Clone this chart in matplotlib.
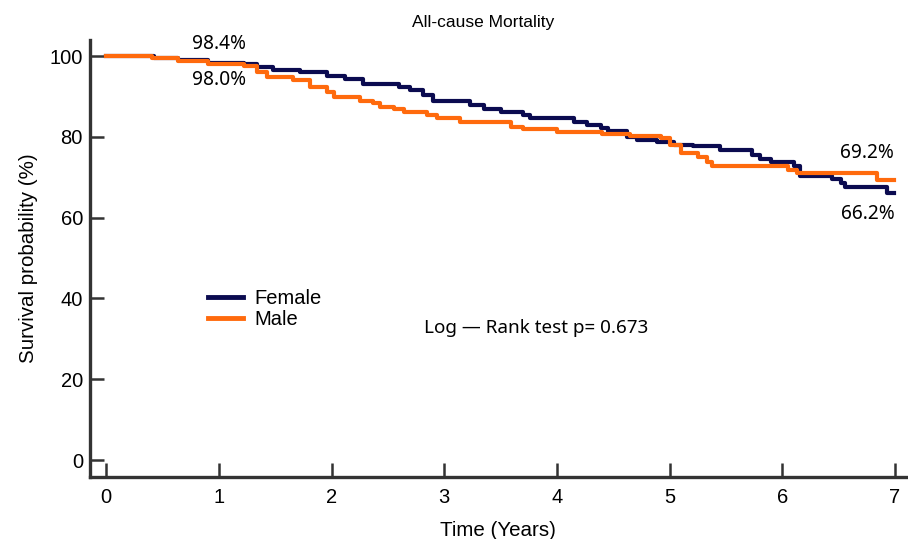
import matplotlib
matplotlib.use("Agg")
import matplotlib.pyplot as plt

# Kaplan-Meier step curves (years, survival %)
female_t = [0, 0.42, 0.64, 0.90, 1.22, 1.34, 1.48, 1.72, 1.96, 2.12, 2.28,
            2.60, 2.70, 2.81, 2.90, 3.23, 3.35, 3.50, 3.70, 3.76, 4.15,
            4.27, 4.39, 4.45, 4.62, 4.71, 4.89, 5.04, 5.21, 5.45, 5.73,
            5.80, 5.90, 6.10, 6.16, 6.44, 6.52, 6.56, 6.93, 6.99]
female_s = [100, 99.6, 99.0, 98.4, 98.0, 97.4, 96.5, 96.0, 95.0, 94.3, 93.0,
            92.4, 91.6, 90.4, 88.9, 88.0, 86.8, 86.1, 85.4, 84.6, 83.6,
            82.9, 82.1, 81.5, 80.0, 79.2, 78.8, 78.1, 77.7, 76.8, 75.5,
            74.4, 73.7, 72.8, 70.2, 69.6, 68.5, 67.6, 66.2, 66.2]

male_t = [0, 0.41, 0.64, 0.90, 1.22, 1.34, 1.43, 1.66, 1.81, 1.96, 2.02,
          2.25, 2.37, 2.43, 2.55, 2.64, 2.85, 2.94, 3.14, 3.59, 3.70, 4.00,
          4.40, 4.65, 4.92, 5.00, 5.10, 5.25, 5.33, 5.38, 6.05, 6.13, 6.84,
          6.99]
male_s = [100, 99.4, 98.8, 98.0, 97.6, 96.1, 94.9, 94.1, 92.4, 91.2, 89.8,
          88.9, 88.3, 87.5, 86.8, 86.2, 85.4, 84.6, 83.7, 82.5, 81.9, 81.3,
          80.7, 80.2, 79.6, 78.0, 75.9, 75.1, 73.8, 72.8, 71.8, 71.0, 69.2,
          69.2]

x_ticks = [0, 1, 2, 3, 4, 5, 6, 7]
y_ticks = [0, 20, 40, 60, 80, 100]

navy = "#0b0b50"
orange = "#ff6a0d"
sans = "Liberation Sans"
body = "Noto Sans"

fig = plt.figure(figsize=(9.08, 5.39), dpi=100)
ax = fig.add_axes([0.099, 0.115, 0.899, 0.811])

ax.step(female_t, female_s, where="post", color=navy, linewidth=3,
        label="Female")
ax.step(male_t, male_s, where="post", color=orange, linewidth=3,
        label="Male")

ax.set_xlim(-0.145, 7.10)
ax.set_ylim(-4.2, 104)
ax.set_xticks(x_ticks)
ax.set_yticks(y_ticks)

for side in ["top", "right"]:
    ax.spines[side].set_visible(False)
for side in ["left", "bottom"]:
    ax.spines[side].set_linewidth(2.4)
    ax.spines[side].set_color("#333333")

ax.tick_params(direction="in", length=10, width=1.8, color="#333333",
               labelsize=14.5)
ax.tick_params(axis="x", pad=8)
ax.tick_params(axis="y", pad=5)
for lab in ax.get_xticklabels() + ax.get_yticklabels():
    lab.set_family(sans)

ax.set_xlabel("Time (Years)", fontsize=14.8, family=sans, labelpad=10)
ax.set_ylabel("Survival probability (%)", fontsize=14.8, family=sans,
              labelpad=8)
ax.text(0.482, 1.04, "All-cause Mortality", transform=ax.transAxes,
        ha="center", va="center", fontsize=12.5, family=sans)

# survival at 1 and 7 years
ax.text(1.0, 103, "98.4%", ha="center", va="center", fontsize=13.8,
        family=body)
ax.text(1.0, 94, "98.0%", ha="center", va="center", fontsize=13.8,
        family=body)
ax.text(6.75, 76, "69.2%", ha="center", va="center", fontsize=13.8,
        family=body)
ax.text(6.76, 61, "66.2%", ha="center", va="center", fontsize=13.8,
        family=body)

ax.text(2.82, 32.8, "Log \u2014 Rank test p= 0.673", ha="left", va="center",
        fontsize=13.6, family=body)

leg = ax.legend(loc="upper left", bbox_to_anchor=(0.1446, 0.431),
                frameon=False, borderpad=0, borderaxespad=0,
                handlelength=1.75, handletextpad=0.55, labelspacing=0.1,
                prop={"family": sans, "size": 14.5})
for line in leg.get_lines():
    line.set_linewidth(3.5)

fig.savefig("out.png", dpi=100)
